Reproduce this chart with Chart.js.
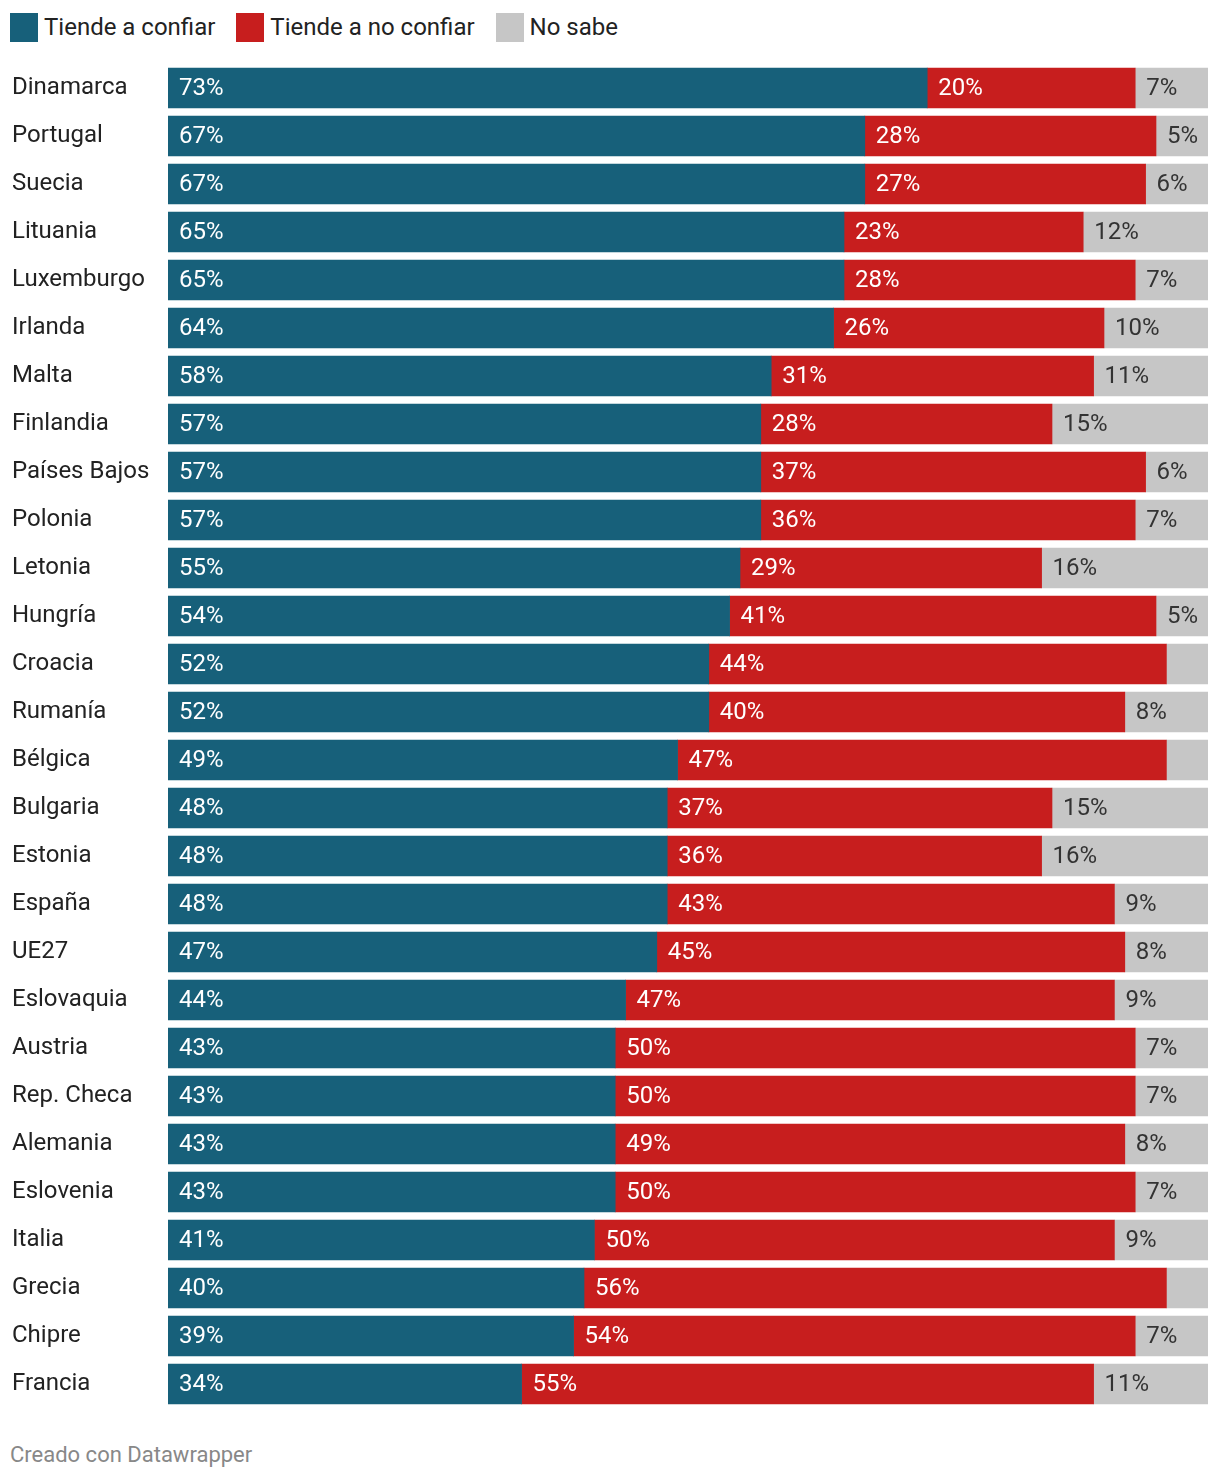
<!DOCTYPE html>
<html>
<head>
<meta charset="utf-8">
<script src="https://cdn.jsdelivr.net/npm/chart.js@4"></script>
<style>
  body { margin: 0; background: #fff; font-family: Roboto, sans-serif; }
  #wrap { position: relative; width: 1220px; height: 1482px; }
  #legend { position: absolute; left: 10px; top: 13px; display: flex; font-size: 24px; color: #222; line-height: 29px; }
  #legend .item { display: flex; align-items: center; margin-right: 21px; }
  #legend .box { width: 28px; height: 29px; margin-right: 6px; }
  #chartBox { position: absolute; left: 0; top: 56px; width: 1220px; height: 1360px; }
  #footer { position: absolute; left: 10px; top: 1442px; font-size: 22px; color: #888; }
</style>
</head>
<body>
<div id="wrap">
  <div id="legend"></div>
  <div id="chartBox"><canvas id="barras"></canvas></div>
  <div id="footer">Creado con Datawrapper</div>
</div>
<script>
// Datos: porcentaje por país
const paises = ['Dinamarca','Portugal','Suecia','Lituania','Luxemburgo','Irlanda','Malta','Finlandia',
  'Países Bajos','Polonia','Letonia','Hungría','Croacia','Rumanía','Bélgica','Bulgaria','Estonia',
  'España','UE27','Eslovaquia','Austria','Rep. Checa','Alemania','Eslovenia','Italia','Grecia','Chipre','Francia'];
const confia   = [73,67,67,65,65,64,58,57,57,57,55,54,52,52,49,48,48,48,47,44,43,43,43,43,41,40,39,34];
const noConfia = [20,28,27,23,28,26,31,28,37,36,29,41,44,40,47,37,36,43,45,47,50,50,49,50,50,56,54,55];
const noSabe   = [7,5,6,12,7,10,11,15,6,7,16,5,4,8,4,15,16,9,8,9,7,7,8,7,9,4,7,11];

const nombres = ['Tiende a confiar','Tiende a no confiar','No sabe'];
const colores = ['#17607a','#c71e1e','#c6c6c6'];
const colorTexto = ['#ffffff','#ffffff','#333333'];

// leyenda en html
const leg = document.getElementById('legend');
nombres.forEach((n, i) => {
  leg.innerHTML += '<div class="item"><div class="box" style="background:' + colores[i] + '"></div>' + n + '</div>';
});

// etiquetas dentro de cada barra (se ocultan los valores menores a 5)
const etiquetas = {
  id: 'etiquetas',
  afterDatasetsDraw(chart) {
    const ctx = chart.ctx;
    ctx.save();
    ctx.font = '24px Roboto';
    ctx.textBaseline = 'middle';
    ctx.textAlign = 'left';
    chart.data.datasets.forEach((ds, i) => {
      chart.getDatasetMeta(i).data.forEach((bar, j) => {
        const v = ds.data[j];
        if (v < 5) return;
        ctx.fillStyle = colorTexto[i];
        ctx.fillText(v + '%', Math.min(bar.x, bar.base) + 11, bar.y + 1);
      });
    });
    ctx.restore();
  }
};

const barrasChart = new Chart(document.getElementById('barras'), {
  type: 'bar',
  data: {
    labels: paises,
    datasets: [
      { label: nombres[0], data: confia, backgroundColor: colores[0] },
      { label: nombres[1], data: noConfia, backgroundColor: colores[1] },
      { label: nombres[2], data: noSabe, backgroundColor: colores[2] }
    ]
  },
  options: {
    indexAxis: 'y',
    responsive: true,
    maintainAspectRatio: false,
    animation: false,
    datasets: { bar: { barThickness: 40, categoryPercentage: 1, barPercentage: 1 } },
    layout: { padding: { left: 12, right: 12, top: 8, bottom: 8 } },
    scales: {
      x: { stacked: true, min: 0, max: 100, display: false },
      y: {
        stacked: true,
        grid: { display: false },
        border: { display: false },
        ticks: { crossAlign: 'far', color: '#222', font: { family: 'Roboto', size: 24 } },
        afterFit(scale) {
          scale.width = 156;
          scale.paddingTop = 0;
          scale.paddingBottom = 0;
        }
      }
    },
    plugins: {
      legend: { display: false },
      tooltip: { enabled: false }
    }
  },
  plugins: [etiquetas]
});
</script>
</body>
</html>
